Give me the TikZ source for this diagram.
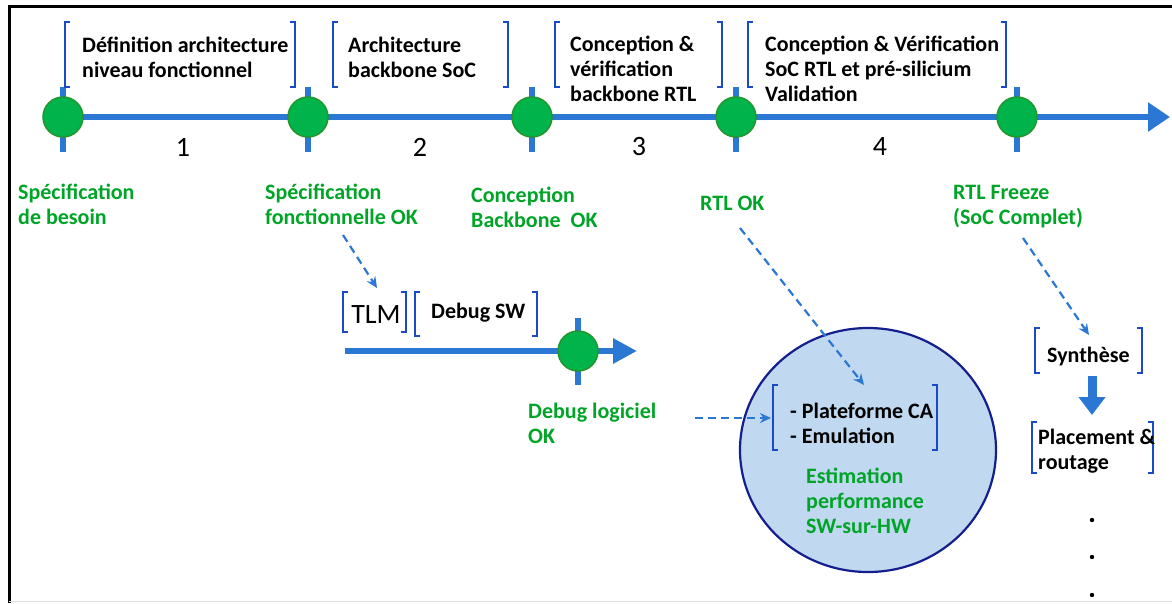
\documentclass[tikz,border=0pt]{standalone}
\usepackage{fontspec}
\setmainfont{Carlito}
\usepackage{tikz}
\usetikzlibrary{arrows.meta,positioning,calc}
\definecolor{tlblue}{RGB}{42,120,212}
\definecolor{brkblue}{RGB}{25,75,200}
\definecolor{msgreen}{RGB}{0,180,75}
\definecolor{msedge}{RGB}{35,150,45}
\definecolor{labgreen}{RGB}{0,165,40}
\definecolor{bubfill}{RGB}{192,216,240}
\definecolor{bubedge}{RGB}{20,30,140}
\tikzset{ms/.style={draw=msedge,fill=msgreen,circle,line width=1.5pt,minimum
size=40pt,inner sep=0pt},txt/.style={anchor=west,align=left,inner sep=0pt,
font=\fontsize{22}{25}\selectfont\bfseries},lab/.style={txt,text=labgreen},
num/.style={font=\fontsize{28}{30}\selectfont},
brk/.style={draw=brkblue,line width=2pt},tick/.style={draw=tlblue,line
width=6.5pt},dasharr/.style={draw=tlblue,line width=2.2pt,dash pattern=on 8pt
off 5pt,-{Stealth[length=11pt,width=10pt]}}}
% crochets autour d'un texte: x gauche, x droite, y haut, y bas
\newcommand{\brk}[4]{\draw[brk] (#1+5,#3) -- (#1,#3) -- (#1,#4) -- (#1+5,#4);
\draw[brk] (#2-5,#3) -- (#2,#3) -- (#2,#4) -- (#2-5,#4);}
\begin{document}
\begin{tikzpicture}[x=1pt,y=-1pt]
\useasboundingbox (0,0) rectangle (1172,603);
\draw[line width=3pt] (9,603) -- (9,6) -- (1172,6);
\draw[black!12,line width=1pt] (9,601.5) -- (1172,601.5);

% axe principal
\foreach \x [count=\i] in {63,308,532,736,1017}{
  \coordinate (p\i) at (\x,117);
  \draw[tick] (\x,87) -- (\x,152);
}
\coordinate (fin) at (1170,117);
\draw[tlblue,line width=6pt,-{Triangle[length=22pt,width=28pt]}] (p1) -- (fin);
\foreach \i in {1,...,5}{\node[ms] (m\i) at (p\i) {};}

\node[num] (n1) at (183,147) {1};
\node[num] (n2) at (420,147) {2};
\node[num] (n3) at (639,147) {3};
\node[num] (n4) at (880,147) {4};

% phases
\brk{65}{295}{22}{87}
\brk{333}{508}{22}{87}
\brk{555}{722}{22}{87}
\brk{748}{1006}{22}{87}
\node[txt] (ph1) at (82,57) {D\'efinition architecture\\niveau fonctionnel};
\node[txt] (ph2) at (348,57) {Architecture\\backbone SoC};
\node[txt] (ph3) at (570,69) {Conception \&\\v\'erification\\backbone RTL};
\node[txt] (ph4) at (765,69) {Conception \& V\'erification\\SoC RTL et pr\'e-silicium\\Validation};

% jalons
\node[lab] (j1) at (18,204) {Sp\'ecification\\de besoin};
\node[lab] (j2) at (265,204) {Sp\'ecification\\fonctionnelle OK};
\node[lab] (j3) at (471,207) {Conception\\Backbone~~OK};
\node[lab] (j4) at (700,203) {RTL OK};
\node[lab] (j5) at (953,207) {RTL Freeze\\(SoC Complet)};

% axe logiciel
\coordinate (q0) at (345,351);
\coordinate (q1) at (578,351);
\coordinate (qfin) at (637,351);
\draw[tick] (578,318) -- (578,385);
\draw[tlblue,line width=6.5pt,-{Triangle[length=24pt,width=24pt]}] (q0) -- (qfin);
\node[ms] (m6) at (q1) {};
\brk{343}{406}{292}{332}
\brk{415}{537}{292}{336}
\node[font=\fontsize{28}{30}\selectfont] (tlm) at (376,315) {TLM};
\node[txt] (dsw) at (431,313) {Debug SW};
\node[lab] (j6) at (528,423) {Debug logiciel\\OK};

% emulation
\draw[draw=bubedge,fill=bubfill,line width=2.2pt] (868,450) ellipse (128 and 122);
\brk{773}{937}{385}{450}
\node[txt] (pf) at (790,423) {- Plateforme CA\\- Emulation};
\node[lab] (est) at (806,501) {Estimation\\performance\\SW-sur-HW};

% back-end
\brk{1035}{1142}{328}{373}
\brk{1032}{1153}{422}{473}
\node[txt] (syn) at (1047,357) {Synth\`ese};
\node[txt] (pr) at (1038,451) {Placement \&\\routage};
\draw[tlblue,line width=9pt,-{Triangle[length=18pt,width=26pt]}] (1092,376) -- (1092,415);
\foreach \y in {520,557,595}{\fill (1092,\y) circle (2.2);}

% liens
\coordinate (a1) at (343,235);
\coordinate (a2) at (377,288);
\coordinate (b1) at (740,228);
\coordinate (b2) at (864,385);
\coordinate (c1) at (1023,238);
\coordinate (c2) at (1089,335);
\coordinate (e1) at (695,418);
\coordinate (e2) at (771,418);
\draw[dasharr] (a1) -- (a2);
\draw[dasharr] (b1) -- (b2);
\draw[dasharr] (c1) -- (c2);
\draw[dasharr] (e1) -- (e2);
\end{tikzpicture}
\end{document}
